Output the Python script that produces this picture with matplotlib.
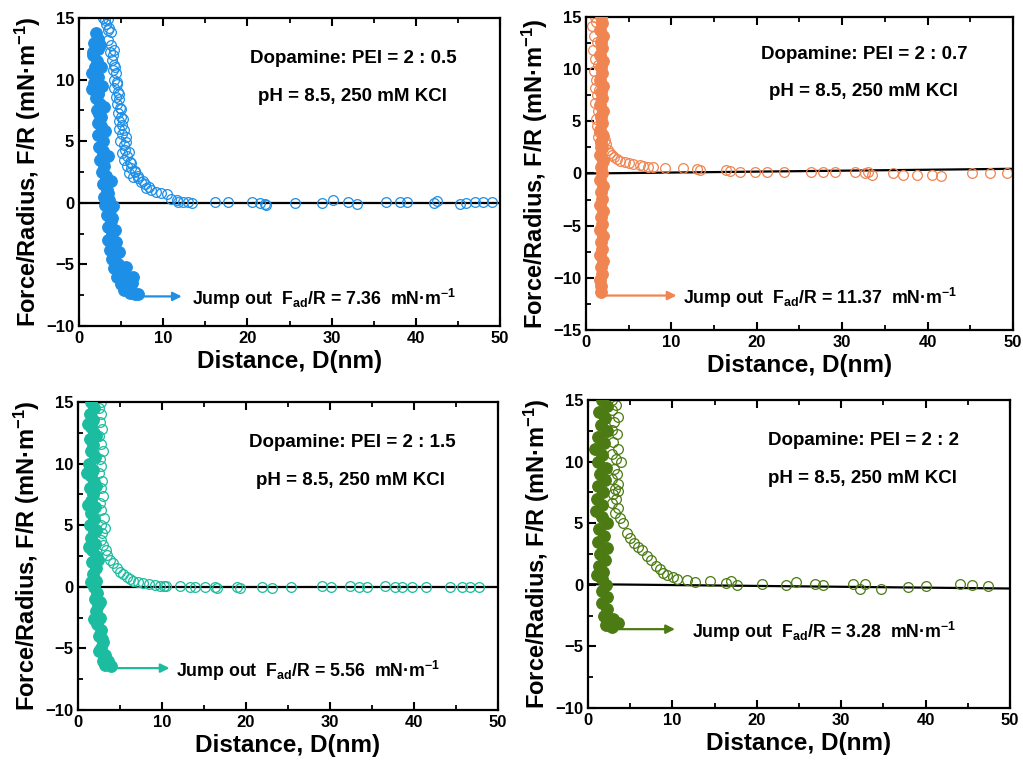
import matplotlib
matplotlib.use("Agg")
import matplotlib.pyplot as plt
from matplotlib.ticker import MultipleLocator

plt.rcParams['font.family'] = ['Liberation Sans', 'DejaVu Sans']
plt.rcParams['mathtext.fontset'] = 'custom'
plt.rcParams['mathtext.rm'] = 'Liberation Sans:bold'
plt.rcParams['mathtext.bf'] = 'Liberation Sans:bold'
plt.rcParams['mathtext.it'] = 'Liberation Sans:bold'

# ---------------- data ----------------
colors = ['#1E8FE6', '#F08552', '#1BBC9F', '#4B7B12']
ratios = ['2 : 0.5', '2 : 0.7', '2 : 1.5', '2 : 2']
fad = ['7.36', '11.37', '5.56', '3.28']
ylims = [(-10, 15), (-15, 15), (-10, 15), (-10, 15)]

# Panel 1 (2:0.5) approach (open) and separation (filled)
ap1_x = [2.8, 3.1, 3.4, 3.2, 3.5, 3.8, 3.5, 3.8, 3.7, 4.1, 3.9, 4.2, 4.0, 4.4, 4.2, 4.5, 4.1, 4.6, 4.4, 4.8,
         4.5, 4.9, 4.6, 5.0, 4.7, 5.1, 4.8, 5.1, 5.6, 4.9, 5.3, 5.5, 5.1, 5.7, 5.4, 6.0, 5.7, 6.2, 5.9, 6.6,
         6.4, 7.0, 7.4, 7.8, 8.3, 8.6, 9.1, 9.7, 10.5, 10.9, 11.6, 11.8, 12.3, 13.0, 13.4,
         3.6, 4.0, 4.3, 4.5, 4.7, 5.0, 5.2, 5.4, 5.6, 5.9, 6.2, 6.6, 7.0, 7.6, 8.0,
         16.15, 17.7, 20.5, 21.5, 22.1, 22.2, 25.65, 28.8, 30.2, 32.0, 33.0, 36.4, 38.1, 39.0, 42.1, 42.5,
         45.2, 46.0, 47.0, 48.0, 49.0]
ap1_y = [15.0, 14.8, 14.9, 14.5, 14.0, 13.9, 13.2, 12.8, 12.2, 12.4, 11.6, 11.2, 10.8, 10.5, 10.0, 9.6, 9.3,
         9.0, 8.6, 8.4, 8.0, 7.7, 7.3, 7.0, 6.6, 6.3, 6.0, 5.6, 5.3, 5.0, 4.7, 4.3, 4.0, 3.8, 3.5, 3.3, 3.0,
         2.8, 2.4, 2.5, 2.1, 2.0, 1.7, 1.5, 1.3, 1.0, 0.9, 0.8, 0.7, 0.3, 0.2, 0.05, 0.1, 0.1, 0.0,
         14.2, 12.0, 11.0, 9.8, 8.8, 7.6, 6.8, 5.9, 4.9, 4.1, 3.2, 2.6, 2.2, 1.8, 1.2,
         0.05, 0.05, 0.05, 0.0, -0.1, -0.2, -0.05, 0.0, 0.2, 0.05, -0.1, 0.05, 0.05, 0.05, 0.0, 0.15,
         -0.1, 0.0, 0.05, 0.05, 0.05]
ret1_x = [2.0, 2.3, 1.8, 2.2, 1.7, 2.1, 1.9, 1.6, 2.2, 1.8, 1.5, 2.3, 2.0, 2.5, 2.1, 2.6, 2.2, 2.7, 2.3, 2.8,
          2.4, 2.9, 2.5, 3.0, 2.7, 3.2, 2.8, 3.3, 3.0, 3.6, 3.1, 3.7, 3.3, 3.8, 3.4, 3.9, 3.5, 4.1, 3.7, 4.3,
          3.9, 4.6, 4.2, 4.9, 4.5, 5.3, 5.0, 5.8, 6.3, 5.3, 6.0, 6.6, 7.0,
          2.5, 2.6, 2.7, 3.0, 3.1, 3.4, 3.8, 4.0, 4.3, 4.7, 5.2,
          1.7, 1.9, 2.0, 2.3, 2.4, 2.6, 2.9, 3.2, 3.5, 3.9, 4.4, 5.6, 6.4]
ret1_y = [13.8, 13.3, 13.0, 12.5, 12.0, 11.5, 11.0, 10.5, 10.2, 9.7, 9.2, 9.0, 8.5, 8.0, 7.5, 7.0, 6.5, 6.0,
          5.5, 5.0, 4.5, 4.0, 3.5, 3.0, 2.5, 2.0, 1.5, 1.0, 0.5, 0.2, -0.2, -0.6, -1.0, -1.5, -2.0, -2.5,
          -3.0, -3.4, -3.8, -4.2, -4.6, -5.0, -5.3, -5.6, -6.0, -6.2, -6.6, -6.8, -6.5, -7.1, -7.3, -7.4, -7.4,
          12.8, 11.0, 9.5, 7.8, 5.8, 3.8, 1.8, -0.3, -2.2, -4.0, -5.8,
          12.2, 10.8, 9.8, 8.8, 7.2, 6.2, 4.2, 2.2, 0.8, -1.2, -3.2, -5.2, -6.0]

# Panel 2 (2:0.7)
ap2_x = [1.0, 0.7, 1.2, 0.9, 1.3, 0.8, 1.1, 1.4, 0.9, 1.2, 1.0, 1.3, 1.5, 1.1, 1.4, 1.2, 1.6, 1.3, 1.5, 1.4,
         1.7, 1.6, 2.0, 2.2, 2.4, 2.6, 2.8, 3.0, 3.3, 3.6, 4.0, 4.6, 5.0, 5.5, 6.3, 6.7, 7.3, 7.8, 9.3,
         11.4, 12.96, 13.35, 16.4, 16.9, 18.0, 19.8, 21.2, 23.2, 26.3, 27.8, 29.2, 31.5, 32.7, 33.0, 33.5,
         36.0, 37.1, 38.8, 40.5, 41.6, 45.2, 47.3, 49.3]
ap2_y = [15.0, 14.1, 14.5, 13.2, 12.6, 11.8, 11.0, 10.4, 9.8, 9.0, 8.2, 7.5, 8.0, 6.8, 6.0, 5.2, 5.5, 4.6,
         4.0, 3.5, 3.0, 2.5, 3.8, 3.2, 2.8, 2.3, 2.0, 1.8, 1.6, 1.4, 1.2, 1.1, 1.0, 0.9, 0.8, 0.75, 0.6,
         0.65, 0.5, 0.5, 0.4, 0.3, 0.3, 0.2, 0.1, 0.1, 0.1, 0.1, 0.1, 0.1, 0.1, 0.1, 0.0, 0.1, -0.1, 0.0,
         -0.1, -0.1, -0.1, -0.2, 0.0, 0.0, 0.0]
ret2_x = [1.8, 1.9, 1.7, 2.0, 1.8, 1.9, 1.7, 2.0, 1.8, 1.9, 1.7, 2.0, 1.8, 1.9, 1.7, 2.0, 1.8, 1.9, 1.7, 2.0,
          1.8, 1.9, 1.7, 2.0, 1.8, 1.9, 1.7, 2.0, 1.8, 1.9, 1.7, 2.0, 1.8, 1.9, 1.7, 2.0, 1.8, 1.9, 1.7, 2.0,
          1.8, 1.9, 1.7, 1.8, 1.8]
ret2_y = [15.0, 14.4, 13.8, 13.2, 12.6, 12.0, 11.4, 10.8, 10.2, 9.6, 9.0, 8.4, 7.8, 7.2, 6.6, 6.0, 5.4, 4.8,
          4.2, 3.6, 3.0, 2.4, 1.8, 1.2, 0.6, 0.0, -0.6, -1.2, -1.8, -2.4, -3.0, -3.6, -4.2, -4.8, -5.4, -6.0,
          -6.6, -7.2, -7.8, -8.4, -9.0, -9.6, -10.2, -10.8, -11.4]

# Panel 3 (2:1.5)
ap3_x = [2.7, 2.5, 2.8, 2.6, 2.9, 2.5, 2.7, 3.0, 2.6, 2.8, 2.5, 2.9, 2.7, 3.0, 2.6, 2.8, 3.1, 2.7, 2.9, 3.2,
         2.8, 3.0, 3.3, 3.5, 3.8, 4.2, 4.6, 5.0, 5.4, 5.8, 6.2, 6.6, 7.2, 7.8, 8.5, 9.2, 9.8, 10.2, 10.5,
         12.1, 13.3, 13.9, 15.1, 16.3, 16.5, 18.9, 19.3, 21.9, 23.1, 25.4, 29.0, 30.1, 32.4, 33.4, 34.4,
         36.5, 37.7, 38.6, 39.8, 41.4, 44.3, 45.7, 46.7, 47.7]
ap3_y = [15.0, 14.5, 14.0, 13.4, 12.8, 12.2, 11.6, 11.0, 10.4, 9.8, 9.2, 8.6, 8.0, 7.4, 6.8, 6.2, 5.6, 5.0,
         4.4, 4.8, 3.8, 3.4, 3.0, 2.6, 2.2, 1.9, 1.5, 1.2, 1.0, 0.8, 0.65, 0.5, 0.4, 0.3, 0.2, 0.15, 0.1,
         0.1, 0.05, 0.05, 0.0, 0.0, 0.0, 0.0, -0.1, -0.05, -0.1, -0.05, -0.1, 0.0, 0.05, 0.0, 0.05, 0.0,
         0.0, 0.05, 0.0, -0.05, 0.0, 0.0, 0.0, 0.0, -0.05, -0.05]
ret3_x = [1.5, 1.9, 1.4, 1.8, 1.5, 1.9, 1.4, 1.8, 1.5, 2.0, 1.3, 1.8, 1.5, 1.9, 1.4, 1.8, 1.5, 2.0, 1.6, 1.9,
          1.4, 1.9, 1.6, 2.0, 1.7, 2.1, 1.7, 2.2, 1.8, 2.2, 1.9, 2.3, 2.0, 2.4, 2.1, 2.6, 2.3, 2.8, 2.5, 3.0,
          2.8, 3.2, 3.0, 3.5, 3.9, 3.2,
          1.2, 2.1, 1.1, 2.2, 1.2, 2.2, 1.3, 2.4, 1.5, 2.6, 1.9, 2.9, 2.5, 3.6]
ret3_y = [15.0, 14.5, 14.0, 13.5, 13.0, 12.5, 12.0, 11.5, 11.0, 10.5, 10.0, 9.5, 9.0, 8.5, 8.0, 7.5, 7.0, 6.5,
          6.0, 5.5, 5.0, 4.5, 4.0, 3.5, 3.0, 2.5, 2.0, 1.5, 1.0, 0.5, 0.0, -0.5, -1.0, -1.5, -2.0, -2.5,
          -3.0, -3.5, -4.0, -4.5, -5.0, -5.5, -6.0, -6.3, -6.4, -6.35,
          13.2, 12.2, 9.2, 8.2, 6.6, 4.6, 3.2, 2.2, 0.4, -1.2, -2.6, -4.2, -5.2, -6.0]

# Panel 4 (2:2)
ap4_x = [2.9, 3.3, 2.8, 3.6, 3.1, 2.9, 3.4, 3.0, 3.5, 2.8, 3.3, 3.9, 3.1, 3.4, 2.9, 3.6, 3.2, 3.0, 3.5, 3.3,
         2.9, 3.6, 3.2, 3.8,
         4.2, 4.6, 5.0, 5.4, 5.9, 6.4, 7.0, 7.5, 8.1, 8.5, 8.9, 9.4, 10.1, 10.6, 11.7, 12.7, 14.5, 16.4,
         16.9, 17.6, 20.6, 23.5, 24.7, 26.9, 27.9, 31.4, 32.2, 32.8, 34.7, 37.9, 40.1, 44.1, 45.5, 47.4]
ap4_y = [15.0, 14.6, 14.2, 13.6, 13.2, 12.6, 12.2, 11.6, 11.0, 10.6, 10.2, 10.0, 9.4, 9.0, 8.6, 8.2, 7.8, 7.4,
         7.6, 7.0, 6.6, 6.2, 5.8, 5.4,
         5.0, 4.2, 3.8, 3.4, 3.1, 2.8, 2.3, 2.0, 1.5, 1.3, 0.93, 0.8, 0.6, 0.5, 0.4, 0.25, 0.3, 0.17, 0.3,
         0.0, 0.07, 0.0, 0.2, 0.05, 0.0, 0.05, -0.3, 0.05, -0.3, -0.15, -0.1, 0.05, 0.0, -0.1]
ret4_x = [1.6, 2.2, 1.3, 2.0, 1.5, 2.2, 1.2, 1.9, 0.85, 1.6, 1.2, 2.1, 1.4, 2.0, 1.2, 1.8, 1.1, 1.7, 1.0, 1.6,
          2.2, 1.3, 1.9, 1.2, 2.2, 1.4, 2.0, 1.3, 1.8, 1.05, 1.6, 2.1, 1.6, 2.2, 1.7, 2.3, 1.9, 2.5, 2.1, 2.8,
          3.5, 3.0]
ret4_y = [15.0, 14.5, 14.0, 13.5, 13.0, 12.5, 12.0, 11.5, 11.0, 10.5, 10.0, 9.5, 9.0, 8.5, 8.0, 7.5, 7.0, 6.5,
          6.0, 5.5, 5.0, 4.5, 4.0, 3.5, 3.0, 2.5, 2.0, 1.5, 1.0, 0.8, 0.5, 0.0, -0.5, -1.0, -1.5, -2.0, -2.5,
          -3.0, -3.3, -3.4, -3.1, -2.8]

approach_x = [ap1_x, ap2_x, ap3_x, ap4_x]
approach_y = [ap1_y, ap2_y, ap3_y, ap4_y]
retract_x = [ret1_x, ret2_x, ret3_x, ret4_x]
retract_y = [ret1_y, ret2_y, ret3_y, ret4_y]

# baseline fits (x0, y0, x1, y1)
baselines = [(0, 0.0, 50, 0.0), (0, 0.0, 50, 0.45), (0, -0.05, 50, -0.05), (0, 0.05, 50, -0.3)]
# jump-out arrows (x_start, x_end, y)
arrows = [(7.0, 12.2, -7.6), (1.8, 10.6, -11.7), (4.2, 10.9, -6.6), (3.0, 10.3, -3.6)]
jump_text_x = [13.4, 11.4, 11.7, 12.3]

# axes positions (fraction of figure)
positions = [(0.0772, 0.575, 0.4116, 0.4016),
             (0.5728, 0.5698, 0.4174, 0.408),
             (0.0762, 0.0743, 0.4106, 0.4016),
             (0.5748, 0.0769, 0.4125, 0.4016)]

fig = plt.figure(figsize=(10.23, 7.67), dpi=100)

for i in range(4):
    ax = fig.add_axes(positions[i])
    c = colors[i]
    x0, y0, x1, y1 = baselines[i]
    ax.plot([x0, x1], [y0, y1], color='black', lw=1.6, zorder=1)
    ax.plot(approach_x[i], approach_y[i], 'o', ms=7.0, mfc='none', mec=c, mew=0.9, zorder=2, clip_on=True)
    ax.plot(retract_x[i], retract_y[i], 'o', ms=8.4, mfc=c, mec=c, mew=0.8, zorder=3, clip_on=True)
    xs, xe, ya = arrows[i]
    ax.annotate('', xy=(xe, ya), xytext=(xs, ya),
                arrowprops=dict(arrowstyle='-|>', color=c, lw=1.6, mutation_scale=13,
                                shrinkA=0, shrinkB=0), zorder=4)
    ax.text(jump_text_x[i], ya - 0.2,
            'Jump out  F$_{\\mathbf{ad}}$/R = ' + fad[i] + '  mN·m$^{\\mathbf{-1}}$',
            fontsize=12.8, fontweight='bold', va='center', ha='left')
    ax.text(32.6, 11.7 if i != 1 else 11.4, 'Dopamine: PEI = ' + ratios[i],
            fontsize=13.5, fontweight='bold', ha='center', va='center')
    ax.text(32.5, 8.6 if i != 1 else 7.9, 'pH = 8.5, 250 mM KCl',
            fontsize=13.5, fontweight='bold', ha='center', va='center')

    ax.set_xlim(0, 50)
    ax.set_ylim(*ylims[i])
    ax.xaxis.set_major_locator(MultipleLocator(10))
    ax.xaxis.set_minor_locator(MultipleLocator(5))
    ax.yaxis.set_major_locator(MultipleLocator(5))
    ax.yaxis.set_minor_locator(MultipleLocator(2.5))
    for s in ax.spines.values():
        s.set_linewidth(1.6)
    ax.tick_params(which='major', direction='out', length=6, width=1.5, labelsize=12, pad=3.5)
    ax.tick_params(which='minor', direction='out', length=3.5, width=1.3)
    ax.tick_params(top=True, which='both', direction='in')
    ax.tick_params(axis='x', which='both', labeltop=False)
    ax.tick_params(axis='x', which='major', length=6)
    ax.tick_params(axis='x', which='minor', length=3.5)
    for lab in ax.get_xticklabels() + ax.get_yticklabels():
        lab.set_fontweight('bold')
    ax.set_xlabel('Distance, D(nm)', fontsize=17.5, fontweight='bold', labelpad=3)
    ax.set_ylabel('Force/Radius, F/R (mN·m$^{\\mathbf{-1}}$)', fontsize=17, fontweight='bold', labelpad=2)

fig.savefig('out.png', dpi=100)
